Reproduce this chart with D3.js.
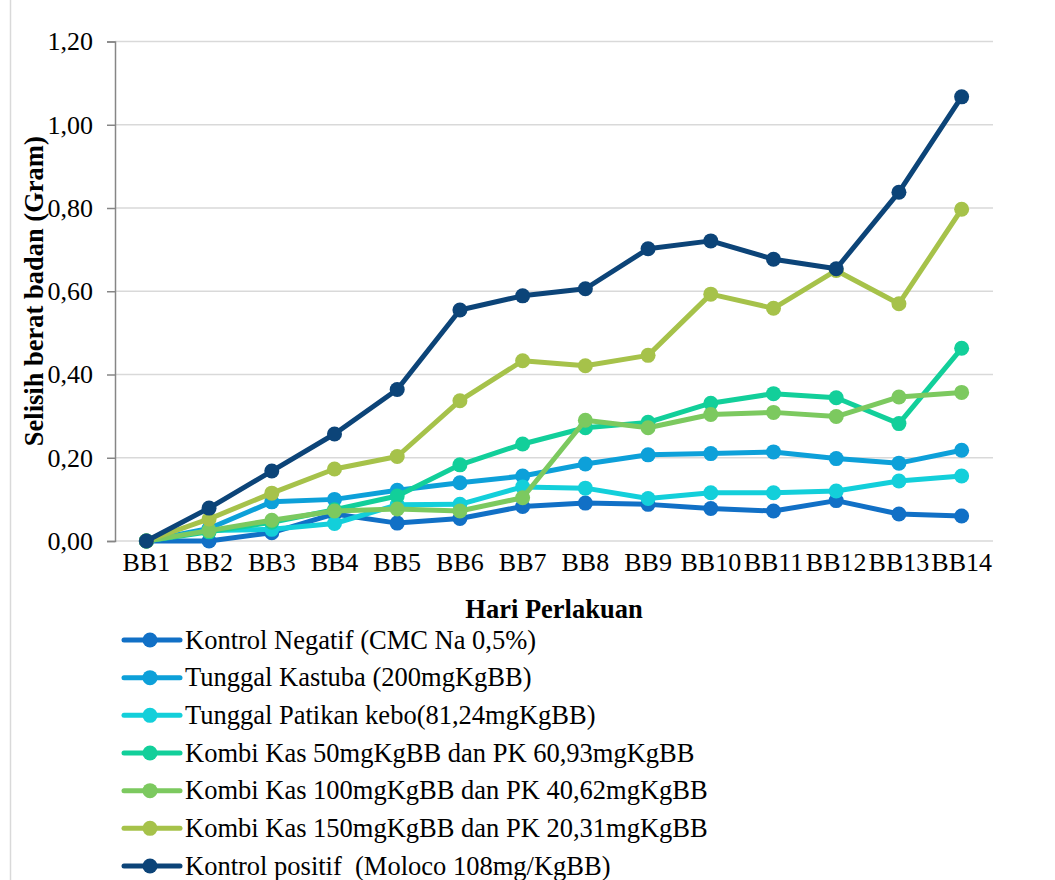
<!DOCTYPE html>
<html>
<head>
<meta charset="utf-8">
<script src="https://cdn.jsdelivr.net/npm/d3@7"></script>
<style>
  html, body { margin: 0; padding: 0; background: #fff; }
  svg { display: block; }
  text { font-family: "Liberation Serif", "Times New Roman", serif; fill: #000; }
</style>
</head>
<body>
<svg id="chart" width="1055" height="880"></svg>
<script>
// Days of measurement
const days = ["BB1","BB2","BB3","BB4","BB5","BB6","BB7","BB8","BB9","BB10","BB11","BB12","BB13","BB14"];

// Y axis tick values and labels (comma decimal)
const yTicks = [0, 0.2, 0.4, 0.6, 0.8, 1.0, 1.2];
const yTickLabels = ["0,00","0,20","0,40","0,60","0,80","1,00","1,20"];

// Series names
const seriesNames = [
  "Kontrol Negatif (CMC Na 0,5%)",
  "Tunggal Kastuba (200mgKgBB)",
  "Tunggal Patikan kebo(81,24mgKgBB)",
  "Kombi Kas 50mgKgBB dan PK 60,93mgKgBB",
  "Kombi Kas 100mgKgBB dan PK 40,62mgKgBB",
  "Kombi Kas 150mgKgBB dan PK 20,31mgKgBB",
  "Kontrol positif  (Moloco 108mg/KgBB)"
];

// Body weight difference (gram) per day, one array per group
const kontrolNegatif   = [0, 0.000, 0.020, 0.065, 0.043, 0.054, 0.083, 0.091, 0.088, 0.078, 0.072, 0.097, 0.065, 0.060];
const tunggalKastuba   = [0, 0.030, 0.094, 0.100, 0.122, 0.140, 0.156, 0.185, 0.207, 0.210, 0.214, 0.198, 0.187, 0.218];
const tunggalPatikan   = [0, 0.025, 0.028, 0.042, 0.087, 0.088, 0.130, 0.127, 0.102, 0.116, 0.116, 0.120, 0.144, 0.156];
const kombi50          = [0, 0.022, 0.045, 0.075, 0.108, 0.183, 0.233, 0.272, 0.285, 0.331, 0.354, 0.344, 0.282, 0.463];
const kombi100         = [0, 0.025, 0.050, 0.072, 0.077, 0.072, 0.104, 0.290, 0.272, 0.304, 0.309, 0.299, 0.346, 0.357];
const kombi150         = [0, 0.053, 0.115, 0.173, 0.203, 0.337, 0.433, 0.421, 0.446, 0.593, 0.559, 0.650, 0.570, 0.797];
const kontrolPositif   = [0, 0.079, 0.168, 0.257, 0.364, 0.555, 0.589, 0.606, 0.702, 0.721, 0.677, 0.654, 0.838, 1.067];

const seriesValues = [kontrolNegatif, tunggalKastuba, tunggalPatikan, kombi50, kombi100, kombi150, kontrolPositif];
const seriesColors = ["#1170C6", "#0DA0D9", "#13CFDA", "#12CF9A", "#7CC95F", "#A6C24A", "#0C4478"];

const svg = d3.select("#chart");

// Plot area
const plotLeft = 115, plotRight = 993, plotTop = 41.5, plotBottom = 541;

const x = d3.scaleBand().domain(days).range([plotLeft, plotRight]).padding(0);
const cx = d => x(d) + x.bandwidth() / 2;
const y = d3.scaleLinear().domain([0, 1.2]).range([plotBottom, plotTop]);

// Outer frame edge on the left
svg.append("line")
  .attr("x1", 10.5).attr("x2", 10.5).attr("y1", 0).attr("y2", 880)
  .attr("stroke", "#D9D9D9").attr("stroke-width", 1.5);

// Horizontal gridlines
svg.append("g")
  .selectAll("line")
  .data(yTicks)
  .join("line")
  .attr("x1", plotLeft).attr("x2", plotRight)
  .attr("y1", d => y(d)).attr("y2", d => y(d))
  .attr("stroke", "#D9D9D9").attr("stroke-width", 1.5);

// Y axis
const yAxis = d3.axisLeft(y)
  .tickValues(yTicks)
  .tickSize(8)
  .tickPadding(14)
  .tickFormat((d, i) => yTickLabels[i]);

const gy = svg.append("g")
  .attr("transform", `translate(${plotLeft},0)`)
  .call(yAxis);
gy.select(".domain").attr("stroke", "#868686").attr("stroke-width", 1.5);
gy.selectAll(".tick line").attr("stroke", "#868686").attr("stroke-width", 1.5);
gy.selectAll(".tick text")
  .attr("font-family", "Liberation Serif, Times New Roman, serif")
  .attr("font-size", 26)
  .attr("fill", "#000");

// X axis labels
const xAxis = d3.axisBottom(x).tickSize(0).tickPadding(12);
const gx = svg.append("g")
  .attr("transform", `translate(0,${plotBottom})`)
  .call(xAxis);
gx.select(".domain").remove();
gx.selectAll(".tick text")
  .attr("font-family", "Liberation Serif, Times New Roman, serif")
  .attr("font-size", 26)
  .attr("fill", "#000")
  .attr("dy", "0.71em");

// Axis titles
svg.append("text")
  .attr("transform", `translate(43,${(plotTop + plotBottom) / 2}) rotate(-90)`)
  .attr("text-anchor", "middle")
  .attr("font-size", 26.5)
  .attr("font-weight", "bold")
  .text("Selisih berat badan (Gram)");

svg.append("text")
  .attr("x", (plotLeft + plotRight) / 2)
  .attr("y", 618)
  .attr("text-anchor", "middle")
  .attr("font-size", 26.5)
  .attr("font-weight", "bold")
  .text("Hari Perlakuan");

// Lines and markers
const line = d3.line()
  .x((d, i) => cx(days[i]))
  .y(d => y(d));

seriesValues.forEach((vals, si) => {
  const g = svg.append("g");
  g.append("path")
    .datum(vals)
    .attr("d", line)
    .attr("fill", "none")
    .attr("stroke", seriesColors[si])
    .attr("stroke-width", 5)
    .attr("stroke-linejoin", "round")
    .attr("stroke-linecap", "round");
  g.selectAll("circle")
    .data(vals)
    .join("circle")
    .attr("cx", (d, i) => cx(days[i]))
    .attr("cy", d => y(d))
    .attr("r", 7.5)
    .attr("fill", seriesColors[si]);
});

// Legend
const legendY = d3.scaleLinear().domain([0, seriesNames.length - 1]).range([640, 866]);
const legend = svg.append("g")
  .selectAll("g")
  .data(seriesNames)
  .join("g")
  .attr("transform", (d, i) => `translate(0,${legendY(i)})`);

legend.append("line")
  .attr("x1", 124).attr("x2", 180)
  .attr("y1", 0).attr("y2", 0)
  .attr("stroke", (d, i) => seriesColors[i])
  .attr("stroke-width", 5)
  .attr("stroke-linecap", "round");
legend.append("circle")
  .attr("cx", 150).attr("cy", 0).attr("r", 7.5)
  .attr("fill", (d, i) => seriesColors[i]);
legend.append("text")
  .attr("x", 185)
  .attr("y", 8.5)
  .attr("font-size", 26.5)
  .style("white-space", "pre")
  .text(d => d);
</script>
</body>
</html>
